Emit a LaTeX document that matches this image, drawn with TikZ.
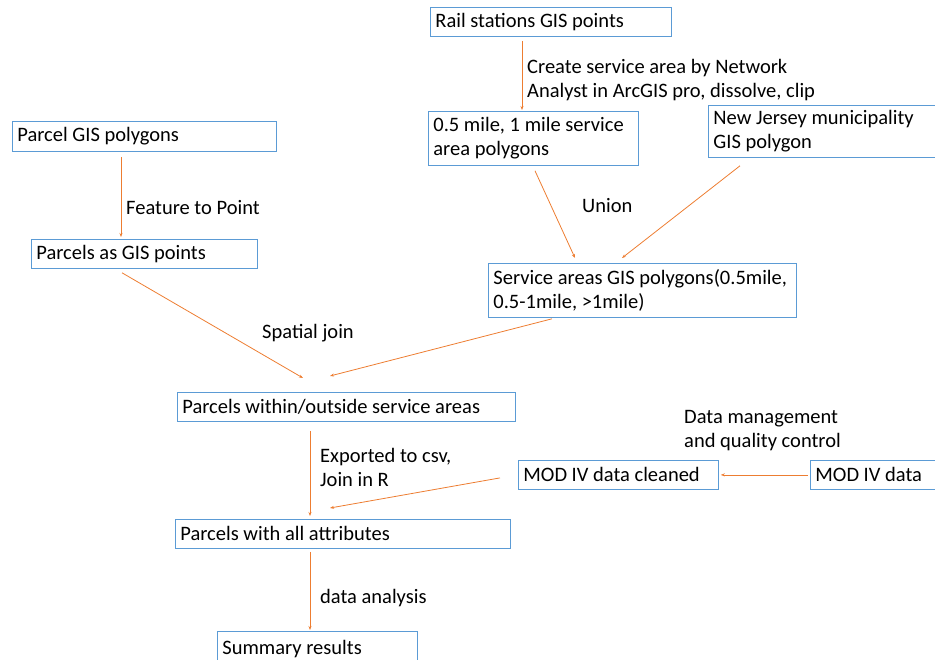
\documentclass[tikz,border=0pt]{standalone}
\usepackage{fontspec}
\setmainfont{Carlito}
\usepackage{xcolor}
\usepackage{tikz}
\usetikzlibrary{arrows.meta,calc}
\definecolor{boxblue}{RGB}{91,155,213}
\definecolor{flowor}{RGB}{237,125,49}

\begin{document}
\begin{tikzpicture}[x=1pt,y=-1pt,font=\fontsize{20.5}{24}\selectfont,
  box/.style={draw=boxblue,line width=0.8pt,anchor=north west,inner xsep=5pt,inner ysep=0pt,align=flush left},
  flow/.style={draw=flowor,line width=0.8pt,-{Stealth[length=4pt,width=3pt]}},
  lbl/.style={inner sep=0pt,anchor=base west}]
  % pixel coordinates of the 935x660 sheet, y downwards
  \useasboundingbox (0,0) rectangle (935,660);
  \node[box,minimum width=241pt,minimum height=29pt,text width=231pt] (rail) at (430,7) {Rail stations GIS points};
  \node[box,minimum width=210pt,minimum height=54pt,text width=200pt] (buf) at (428,111) {0.5 mile, 1 mile service\\area polygons};
  \node[box,minimum width=232pt,minimum height=52pt,text width=222pt] (nj) at (708,105) {New Jersey municipality\\GIS polygon};
  \node[box,minimum width=264pt,minimum height=30pt,text width=254pt] (parcel) at (12,121) {Parcel GIS polygons};
  \node[box,minimum width=226pt,minimum height=29pt,text width=216pt] (pts) at (31,239) {Parcels as GIS points};
  \node[box,minimum width=308pt,minimum height=54pt,text width=298pt] (svc) at (488,263) {Service areas GIS polygons(0.5mile,\\0.5-1mile, >1mile)};
  \node[box,minimum width=338pt,minimum height=29pt,text width=328pt] (within) at (177,392) {Parcels within/outside service areas};
  \node[box,minimum width=200pt,minimum height=29pt,text width=190pt] (cleaned) at (518,460) {MOD IV data cleaned};
  \node[box,minimum width=132pt,minimum height=29pt,text width=122pt] (mod) at (810,460) {MOD IV data};
  \node[box,minimum width=335pt,minimum height=29pt,text width=325pt] (attr) at (175,519) {Parcels with all attributes};
  \node[box,minimum width=200pt,minimum height=36pt,text width=190pt] (summ) at (217,631) {Summary results};
  % connectors
  \draw[flow] ($(rail.south west)+(92,4)$) -- ($(buf.north west)+(94,-1)$);
  \draw[flow] ($(parcel.south west)+(109,5)$) -- ($(pts.north west)+(90,-2)$);
  \draw[flow] ($(buf.south west)+(107,5)$) -- ($(svc.north west)+(87,-5)$);
  \draw[flow] ($(nj.south west)+(32,8)$) -- ($(svc.north west)+(134,-5)$);
  \draw[flow] ($(pts.south west)+(91,4)$) -- ($(within.north west)+(126,-14)$);
  \draw[flow] ($(svc.south west)+(64,1)$) -- ($(within.north west)+(153,-16)$);
  \draw[flow] ($(within.south west)+(133,9)$) -- ($(attr.north west)+(135,-3)$);
  \draw[flow] ($(cleaned.west)+(-18,3)$) -- ($(attr.north west)+(155,-11)$);
  \draw[flow] ($(mod.west)+(-2,0)$) -- ($(cleaned.east)+(2,0)$);
  \draw[flow] ($(attr.south west)+(135,3)$) -- ($(summ.north west)+(93,-1)$);
  % step labels
  \node[inner sep=0pt,anchor=north west,align=left] (lcreate) at (527,59) {Create service area by Network\\Analyst in ArcGIS pro, dissolve, clip};
  \node[lbl] (lfeat) at (126,214.5) {Feature to Point};
  \node[lbl] (lunion) at (582,212.5) {Union};
  \node[lbl] (lspatial) at (262,338.5) {Spatial join};
  \node[inner sep=0pt,anchor=north west,align=left] (lexport) at (320,448) {Exported to csv,\\Join in R};
  \node[inner sep=0pt,anchor=north west,align=left] (ldata) at (684,410) {Data management\\and quality control};
  \node[lbl] (lanalysis) at (320,603.5) {data analysis};
\end{tikzpicture}
\end{document}
